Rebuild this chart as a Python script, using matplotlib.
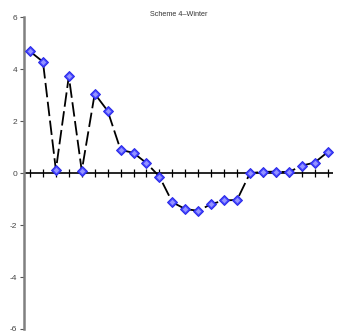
import numpy as np
import matplotlib
matplotlib.use("Agg")
import matplotlib.pyplot as plt

plt.rcParams['font.family'] = ['Liberation Sans', 'DejaVu Sans']
plt.rcParams['axes.unicode_minus'] = False

# winter values per step
steps = list(range(1, 25))
values = [4.69, 4.29, 0.12, 3.73, 0.09, 3.06, 2.40, 0.90, 0.78, 0.39, -0.13, -1.12,
          -1.38, -1.45, -1.19, -1.05, -1.03, 0.00, 0.05, 0.06, 0.04, 0.29, 0.41, 0.81]
y_ticks = [-6, -4, -2, 0, 2, 4, 6]
title = "Scheme 4\u2013Winter"

fig = plt.figure(figsize=(3.38, 3.34), dpi=100)
ax = fig.add_axes([0.071, 0.015, 0.914, 0.933])

# zero line with crossing ticks
ax.axhline(0, color="black", lw=1.2, zorder=1)
ax.plot(steps, [0] * len(steps), ls="none", marker="|", ms=5.5, mew=0.9,
        color="black", zorder=1)

# dashed series line
ax.plot(steps, values, color="black", lw=1.3, ls=(0, (8, 2.5)), zorder=2)

# diamond markers, darker rim and lighter core
ax.plot(steps, values, ls="none", marker="D", ms=5.4, mfc="#4848ff",
        mec="#2626e6", mew=0.7, zorder=3)
ax.plot(steps, values, ls="none", marker="D", ms=2.8, mfc="#9494ff",
        mec="none", zorder=4)

ax.set_xlim(0.536, 24.41)
ax.set_ylim(-6, 6)
ax.set_yticks(y_ticks)
ax.set_xticks([])

for side in ["top", "right", "bottom"]:
    ax.spines[side].set_visible(False)
ax.spines["left"].set_color("#808080")
ax.spines["left"].set_linewidth(1.8)
ax.tick_params(axis="y", length=3, width=0.8, color="#555555", labelsize=6,
               labelcolor="#444444", pad=2)

fig.text(0.528, 0.957, title, ha="center", va="center", fontsize=5.2, color="#333333")

fig.savefig("out.png", dpi=100)
